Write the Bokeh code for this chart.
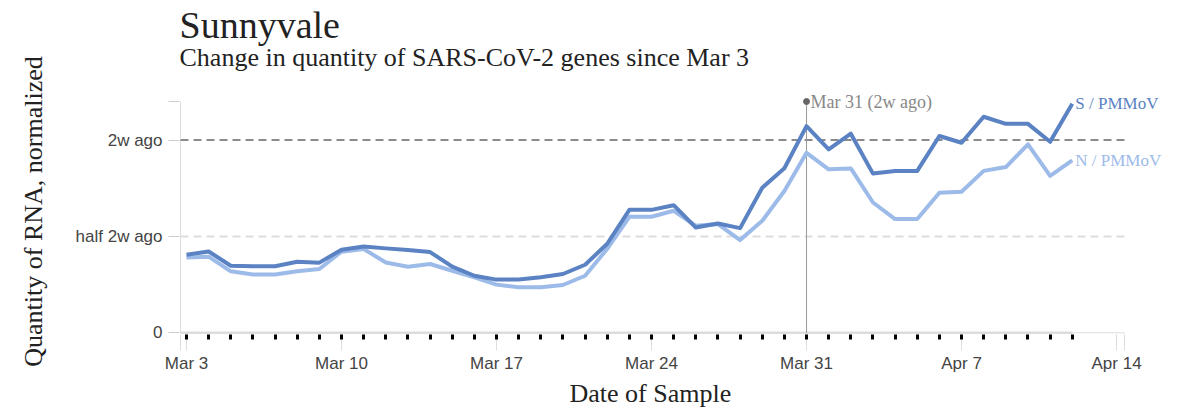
import pandas as pd
from bokeh.plotting import figure
from bokeh.models import FixedTicker, Label, Title, Range1d
from bokeh.embed import file_html
from bokeh.resources import INLINE

# ---------------- data ----------------
title_text = "Sunnyvale"
subtitle_text = "Change in quantity of SARS-CoV-2 genes since Mar 3"
x_label = "Date of Sample"
y_label = "Quantity of RNA, normalized"

dates = pd.date_range("2022-03-03", "2022-04-12", freq="D")

s_vals = [0.405, 0.422, 0.348, 0.345, 0.345, 0.369, 0.364, 0.431, 0.448, 0.438,
          0.429, 0.419, 0.343, 0.296, 0.276, 0.277, 0.288, 0.305, 0.353, 0.462,
          0.638, 0.638, 0.662, 0.546, 0.567, 0.543, 0.753, 0.854, 1.072, 0.952,
          1.033, 0.826, 0.840, 0.840, 1.021, 0.986, 1.121, 1.084, 1.084, 0.991,
          1.188]
n_vals = [0.391, 0.395, 0.319, 0.302, 0.302, 0.319, 0.331, 0.421, 0.435, 0.365,
          0.343, 0.357, 0.322, 0.288, 0.250, 0.236, 0.236, 0.248, 0.296, 0.436,
          0.602, 0.602, 0.633, 0.555, 0.564, 0.481, 0.581, 0.736, 0.934, 0.848,
          0.853, 0.676, 0.590, 0.590, 0.727, 0.732, 0.840, 0.860, 0.978, 0.814,
          0.895]
series_names = ["S / PMMoV", "N / PMMoV"]

tick_dates = ["2022-03-03", "2022-03-10", "2022-03-17", "2022-03-24",
              "2022-03-31", "2022-04-07", "2022-04-14"]
tick_labels = ["Mar 3", "Mar 10", "Mar 17", "Mar 24", "Mar 31", "Apr 7", "Apr 14"]

y_ticks = [0, 0.5, 1.0]
y_tick_labels = ["0", "half 2w ago", "2w ago"]
y_domain_top = 1.2

ref_date = "2022-03-31"
ref_label = "Mar 31 (2w ago)"

# ---------------- layout / styling ----------------
S_COLOR = "#5b82c3"
N_COLOR = "#9dbbe8"
SERIF = "Liberation Serif"
SANS = "Liberation Sans"
AXIS_GRAY = "#dddddd"

t0 = dates[0]
x = [(d - t0).days for d in dates]
tick_x = [(pd.Timestamp(d) - t0).days for d in tick_dates]
ref_x = (pd.Timestamp(ref_date) - t0).days

# axis domain (in days from first sample) and the wider plotting window
dom_x0, dom_x1 = -0.27, 42.38
view_x0, view_x1 = -0.316, 44.21
view_y0, view_y1 = -0.0088, 1.2675

p = figure(width=1170, height=410, output_backend="svg", toolbar_location=None,
           x_range=Range1d(view_x0, view_x1), y_range=Range1d(view_y0, view_y1),
           min_border_left=179, min_border_right=5,
           min_border_top=88, min_border_bottom=76)
p.outline_line_color = None
p.xgrid.visible = False
p.ygrid.visible = False

# titles (p.title is outermost, added Title sits nearer the frame)
p.title.text = title_text
p.title.text_font = SERIF
p.title.text_font_style = "normal"
p.title.text_font_size = "38px"
p.title.text_color = "#222222"
p.title.align = "left"
p.title.standoff = -45
p.add_layout(Title(text=subtitle_text, text_font=SERIF, text_font_style="normal",
                   text_font_size="26px", text_color="#222222", align="left",
                   standoff=34), "above")

# x axis
xa = p.xaxis[0]
xa.ticker = FixedTicker(ticks=tick_x + [dom_x0, dom_x1], minor_ticks=x)
overrides = {tx: lab for tx, lab in zip(tick_x, tick_labels)}
overrides[dom_x0] = ""
overrides[dom_x1] = ""
xa.major_label_overrides = overrides
xa.axis_line_color = None
xa.major_tick_line_color = AXIS_GRAY
xa.major_tick_out = 16
xa.major_tick_in = 0
xa.minor_tick_line_color = "black"
xa.minor_tick_line_width = 3
xa.minor_tick_out = 5
xa.minor_tick_in = 0
xa.major_label_standoff = 3
xa.major_label_text_font = SANS
xa.major_label_text_font_size = "17px"
xa.major_label_text_color = "#444444"

p.add_layout(Title(text=x_label, text_font=SERIF, text_font_style="normal",
                   text_font_size="26px", text_color="#222222", align="left",
                   offset=390, standoff=2), "below")

# y axis
ya = p.yaxis[0]
ya.ticker = FixedTicker(ticks=y_ticks + [y_domain_top])
yover = {t: lab for t, lab in zip(y_ticks, y_tick_labels)}
yover[y_domain_top] = ""
ya.major_label_overrides = yover
ya.axis_line_color = None
ya.major_tick_line_color = "#cccccc"
ya.major_tick_out = 11
ya.major_tick_in = 0
ya.minor_tick_line_color = None
ya.major_label_standoff = 6
ya.major_label_text_font = SANS
ya.major_label_text_font_size = "17px"
ya.major_label_text_color = "#444444"
ya.axis_label = y_label
ya.axis_label_text_font = SERIF
ya.axis_label_text_font_style = "normal"
ya.axis_label_text_font_size = "26px"
ya.axis_label_text_color = "#222222"
ya.axis_label_standoff = 25

# axis domain lines
p.segment(x0=[dom_x0], y0=[y_ticks[0]], x1=[dom_x1], y1=[y_ticks[0]],
          line_color=AXIS_GRAY, line_width=1)
p.segment(x0=[dom_x0], y0=[y_ticks[0]], x1=[dom_x0], y1=[y_domain_top],
          line_color=AXIS_GRAY, line_width=1)
p.line([dom_x0, x[-1]], [y_ticks[0], y_ticks[0]], line_color=AXIS_GRAY, line_width=2.5)

# reference dashed lines
p.segment(x0=[dom_x0], y0=[y_ticks[1]], x1=[dom_x1], y1=[y_ticks[1]],
          line_color="#dddddd", line_dash="8 5", line_width=2)
p.segment(x0=[dom_x0], y0=[y_ticks[2]], x1=[dom_x1], y1=[y_ticks[2]],
          line_color="#666666", line_dash="8 5", line_width=1.5)

# Mar 31 marker
p.segment(x0=[ref_x], y0=[y_ticks[0]], x1=[ref_x], y1=[y_domain_top],
          line_color="#999999", line_width=1)
p.scatter([ref_x], [y_domain_top], size=6, color="#666666")
p.add_layout(Label(x=ref_x, y=y_domain_top, text=ref_label, x_offset=4,
                   text_baseline="middle", text_font=SERIF, text_font_size="18px",
                   text_color="#888888"))

# series
p.line(x, n_vals, line_color=N_COLOR, line_width=4, line_join="round")
p.line(x, s_vals, line_color=S_COLOR, line_width=4, line_join="round")

p.add_layout(Label(x=x[-1], y=s_vals[-1], text=series_names[0], x_offset=3,
                   text_baseline="middle", text_font=SERIF, text_font_size="17px",
                   text_color=S_COLOR))
p.add_layout(Label(x=x[-1], y=n_vals[-1], text=series_names[1], x_offset=3,
                   text_baseline="middle", text_font=SERIF, text_font_size="17px",
                   text_color=N_COLOR))

open("out.html", "w").write(file_html(p, INLINE))
